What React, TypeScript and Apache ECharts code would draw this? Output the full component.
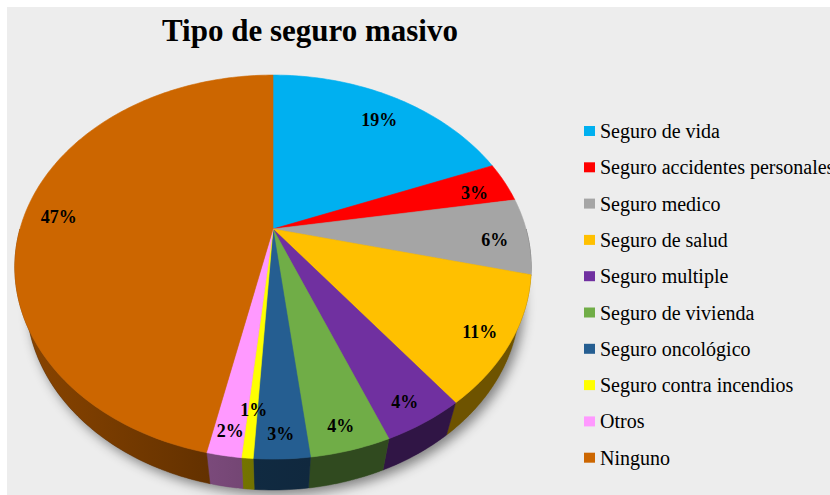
import React, { useEffect, useRef } from "react";
import * as echarts from "echarts";

const categories = [
  "Seguro de vida",
  "Seguro accidentes personales",
  "Seguro medico",
  "Seguro de salud",
  "Seguro multiple",
  "Seguro de vivienda",
  "Seguro oncológico",
  "Seguro contra incendios",
  "Otros",
  "Ninguno",
];
const values = [19.0, 3.4, 6.4, 10.8, 4.3, 4.2, 2.9, 0.6, 1.8, 46.6];
const colors = [
  "#00B0F0",
  "#FF0000",
  "#A5A5A5",
  "#FFC000",
  "#7030A0",
  "#70AD47",
  "#255E91",
  "#FFFF00",
  "#FF99FF",
  "#CC6600",
];
const titleText = "Tipo de seguro masivo";

const SERIF = "'Liberation Serif', 'Times New Roman', serif";

// 3D projection parameters
const CX = 273;
const CY = 229;
const FOC = 873;
const DIST = 3.45;
const SIN_A = 0.729;
const COS_A = 0.684;
const THICK = 0.21;
const LABEL_K = 0.87;
const LABEL_FONT = 18;

function project(X: number, Y: number, Z: number): number[] {
  const depth = DIST + Y * COS_A - Z * SIN_A;
  const up = Y * SIN_A + Z * COS_A;
  return [CX + (FOC * X) / depth, CY - (FOC * up) / depth];
}
function rim(phiDeg: number, Z: number): number[] {
  const r = (phiDeg * Math.PI) / 180;
  return project(Math.sin(r), Math.cos(r), Z);
}
function arc(a: number, b: number, Z: number): number[][] {
  const pts: number[][] = [];
  const n = Math.max(2, Math.ceil((b - a) / 1));
  for (let i = 0; i <= n; i++) pts.push(rim(a + ((b - a) * i) / n, Z));
  return pts;
}
function shadeColor(hex: string, f: number): string {
  const n = parseInt(hex.slice(1), 16);
  const r = Math.round(((n >> 16) & 255) * f);
  const g = Math.round(((n >> 8) & 255) * f);
  const b = Math.round((n & 255) * f);
  return `rgb(${r},${g},${b})`;
}
function shadeFactor(phiDeg: number): number {
  const X = Math.sin((phiDeg * Math.PI) / 180);
  return 0.43 + 0.25 * Math.max(0, -X);
}

const total = values.reduce((s, v) => s + v, 0);
const starts: number[] = [];
{
  let acc = 0;
  for (const v of values) {
    starts.push((acc / total) * 360);
    acc += v;
  }
}
const labelTexts = values.map((v) => Math.round((v / total) * 100) + "%");

// bounding-box centre of the projected top ellipse
const topRim = arc(0, 360, 0);
const CEN = [
  (Math.min(...topRim.map((p) => p[0])) + Math.max(...topRim.map((p) => p[0]))) / 2,
  (Math.min(...topRim.map((p) => p[1])) + Math.max(...topRim.map((p) => p[1]))) / 2,
];

// label placement with simple collision avoidance (bigger slices first)
const labelPos: number[][] = values.map(() => [0, 0]);
{
  const order = values.map((_, i) => i).sort((a, b) => values[b] - values[a]);
  const boxes: number[][] = [];
  for (const i of order) {
    const a = starts[i];
    const b = a + (values[i] / total) * 360;
    const mid = rim((a + b) / 2, 0);
    const w = (labelTexts[i].length - 1) * LABEL_FONT * 0.5 + LABEL_FONT + 2;
    const h = LABEL_FONT;
    let k = LABEL_K;
    let x = 0;
    let y = 0;
    for (let tries = 0; tries < 12; tries++) {
      x = CEN[0] + k * (mid[0] - CEN[0]);
      y = CEN[1] + k * (mid[1] - CEN[1]);
      const hit = boxes.some(
        (bx) => Math.abs(bx[0] - x) < (bx[2] + w) / 2 && Math.abs(bx[1] - y) < (bx[3] + h) / 2
      );
      if (!hit) break;
      k -= 0.04;
    }
    boxes.push([x, y, w, h]);
    labelPos[i] = [x, y];
  }
}

function makeRender(idx: number) {
  return (params: any, api: any) => {
    const v = api.value(0);
    const a = starts[idx];
    const b = a + (v / total) * 360;
    const color = colors[idx];
    const children: any[] = [];
    const topPts = [[CX, CY], ...arc(a, b, 0)];
    children.push({
      type: "polygon",
      shape: { points: topPts },
      style: { fill: color, stroke: color, lineWidth: 0.6 },
      z2: 10,
    });
    const wa = Math.max(a, 90);
    const wb = Math.min(b, 270);
    if (wb > wa) {
      const topA = arc(wa, wb, 0);
      const botA = arc(wa, wb, -THICK).reverse();
      const left = shadeColor(color, shadeFactor(wb));
      const right = shadeColor(color, shadeFactor(wa));
      children.push({
        type: "polygon",
        shape: { points: [...topA, ...botA] },
        style: {
          fill: new echarts.graphic.LinearGradient(0, 0, 1, 0, [
            { offset: 0, color: left },
            { offset: 1, color: right },
          ]),
          stroke: right,
          lineWidth: 0.5,
        },
        z2: 5,
      });
    }
    children.push({
      type: "text",
      x: labelPos[idx][0],
      y: labelPos[idx][1],
      style: {
        text: labelTexts[idx],
        fontFamily: SERIF,
        fontWeight: "bold",
        fontSize: LABEL_FONT,
        fill: "#000",
        align: "center",
        verticalAlign: "middle",
      },
      z2: 20,
    });
    return { type: "group", children };
  };
}

export default function App() {
  const ref = useRef<HTMLDivElement>(null);
  useEffect(() => {
    if (!ref.current) return;
    const chart = echarts.init(ref.current, undefined, { renderer: "svg" });
    const series: any[] = [
      {
        type: "custom",
        name: "base",
        coordinateSystem: "none",
        silent: true,
        data: [[total]],
        renderItem: () => ({
          type: "polygon",
          shape: { points: arc(0, 360, -THICK) },
          style: {
            fill: "#777",
            shadowBlur: 12,
            shadowColor: "rgba(0,0,0,0.45)",
            shadowOffsetX: 4,
            shadowOffsetY: 5,
          },
          z2: 0,
        }),
      },
      ...categories.map((name, i) => ({
        type: "custom",
        name,
        coordinateSystem: "none",
        itemStyle: { color: colors[i] },
        data: [[values[i]]],
        renderItem: makeRender(i),
      })),
    ];
    chart.setOption({
      animation: false,
      backgroundColor: "transparent",
      textStyle: { fontFamily: SERIF },
      title: {
        text: titleText,
        left: 162,
        top: 15,
        padding: 0,
        textStyle: {
          fontFamily: SERIF,
          fontWeight: "bold",
          fontSize: 31,
          color: "#000",
        },
      },
      legend: {
        data: categories,
        orient: "vertical",
        left: 584,
        top: 121,
        padding: 0,
        itemWidth: 11,
        itemHeight: 10,
        itemGap: 16.3,
        icon: "rect",
        textStyle: {
          fontFamily: SERIF,
          fontSize: 20,
          lineHeight: 20,
          color: "#000",
        },
      },
      series,
    });
    return () => chart.dispose();
  }, []);
  return (
    <div
      style={{
        position: "fixed",
        left: 0,
        top: 0,
        width: 830,
        height: 495,
        background: "#ffffff",
        overflow: "hidden",
      }}
    >
      <div
        style={{
          position: "absolute",
          left: 7,
          top: 7,
          right: 0,
          bottom: 0,
          background: "#ededed",
        }}
      />
      <div
        ref={ref}
        style={{ position: "absolute", left: 0, top: 0, width: 830, height: 495 }}
      />
    </div>
  );
}
